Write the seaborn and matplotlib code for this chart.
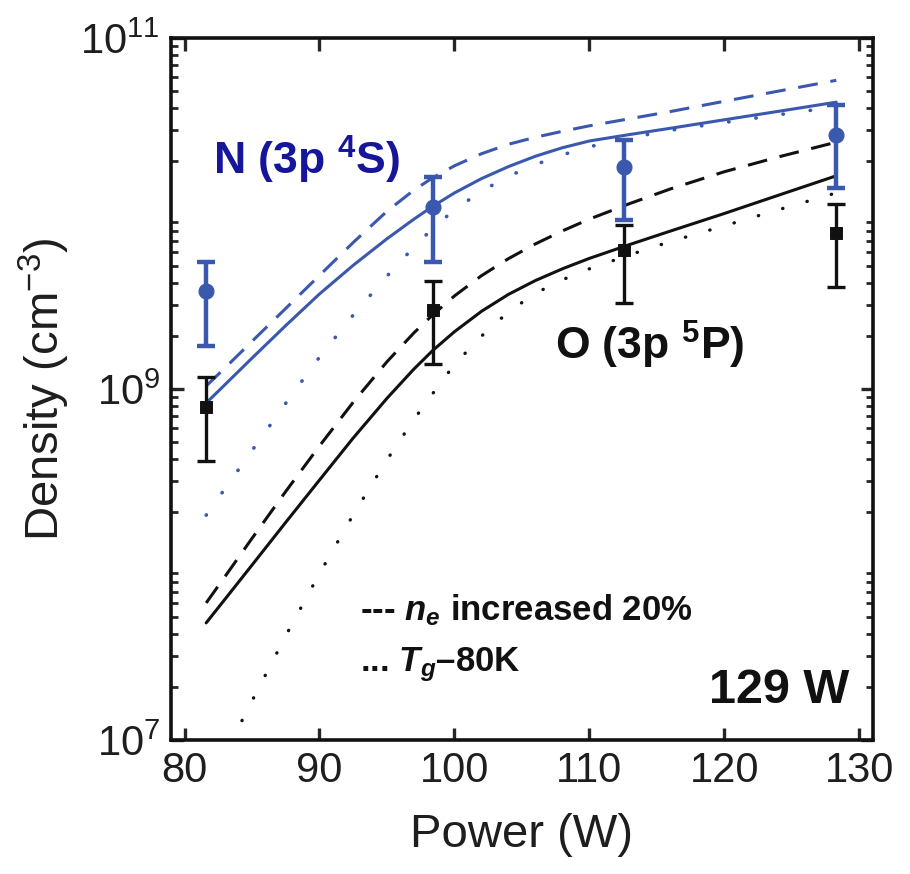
import matplotlib
matplotlib.use("Agg")
import matplotlib.pyplot as plt
import matplotlib.ticker as mticker
import numpy as np
import seaborn as sns

# ---------------- data ----------------
power_model = [81.6, 83, 85, 87.5, 90, 92.5, 95, 97, 98.4, 100, 102, 104, 106, 108, 110,
               113, 116, 120, 124, 128.3]

N_solid  = [8.32e8, 1.06e9, 1.50e9, 2.30e9, 3.48e9, 5.07e9, 7.18e9, 9.29e9, 1.10e10, 1.31e10,
            1.58e10, 1.85e10, 2.12e10, 2.37e10, 2.59e10, 2.82e10, 3.06e10, 3.42e10, 3.82e10, 4.31e10]
N_dashed = [1.04e9, 1.32e9, 1.87e9, 2.88e9, 4.44e9, 6.84e9, 1.03e10, 1.36e10, 1.60e10, 1.87e10,
            2.19e10, 2.48e10, 2.72e10, 2.94e10, 3.16e10, 3.47e10, 3.81e10, 4.36e10, 4.98e10, 5.74e10]
N_dotted = [1.91e8, 2.71e8, 4.46e8, 8.30e8, 1.52e9, 2.64e9, 4.40e9, 6.45e9, 8.24e9, 1.05e10,
            1.34e10, 1.63e10, 1.90e10, 2.16e10, 2.40e10, 2.70e10, 2.98e10, 3.30e10, 3.65e10, 4.06e10]

O_solid  = [4.65e7, 6.35e7, 9.93e7, 1.74e8, 3.03e8, 5.26e8, 8.85e8, 1.30e9, 1.66e9, 2.12e9,
            2.77e9, 3.46e9, 4.15e9, 4.84e9, 5.55e9, 6.66e9, 7.94e9, 1.00e10, 1.27e10, 1.64e10]
O_dashed = [6.04e7, 8.55e7, 1.41e8, 2.61e8, 4.74e8, 8.41e8, 1.43e9, 2.09e9, 2.65e9, 3.39e9,
            4.42e9, 5.53e9, 6.71e9, 7.96e9, 9.29e9, 1.14e10, 1.38e10, 1.73e10, 2.10e10, 2.55e10]
power_O_dotted = [83.4, 85, 87.5, 90, 92.5, 95, 97, 98.4, 100, 102, 104, 106, 108, 110,
                  113, 116, 120, 124, 128.3]
O_dotted = [9.59e6, 1.67e7, 3.93e7, 8.89e7, 1.92e8, 3.95e8, 6.71e8, 9.44e8, 1.38e9, 2.00e9,
            2.75e9, 3.51e9, 4.19e9, 4.84e9, 5.82e9, 6.92e9, 8.51e9, 1.05e10, 1.31e10]

power_meas = [81.6, 98.4, 112.6, 128.3]
N_meas = [3.62e9, 1.09e10, 1.84e10, 2.80e10]
N_low  = [1.76e9, 5.30e9, 9.20e9, 1.40e10]
N_high = [5.30e9, 1.61e10, 2.62e10, 4.15e10]
O_meas = [7.90e8, 2.82e9, 6.20e9, 7.74e9]
O_low  = [3.89e8, 1.39e9, 3.09e9, 3.81e9]
O_high = [1.17e9, 4.12e9, 8.60e9, 1.13e10]

x_ticks = [80, 90, 100, 110, 120, 130]
y_ticks = [1e7, 1e9, 1e11]
y_tick_labels = [r"$10^{7}$", r"$10^{9}$", r"$10^{11}$"]

# ---------------- style ----------------
sns.set_style("ticks")
plt.rcParams["font.family"] = ["Liberation Sans", "DejaVu Sans"]
plt.rcParams["mathtext.fontset"] = "custom"
plt.rcParams["mathtext.rm"] = "Liberation Sans"
plt.rcParams["mathtext.it"] = "Liberation Sans:italic"
plt.rcParams["mathtext.bf"] = "Liberation Sans:bold"
plt.rcParams["mathtext.bfit"] = "Liberation Sans:bold:italic"

BLUE = "#3a58ad"
NAVY = "#16169a"
BLACK = "#111111"
GREY = "#1e1e1e"

fig = plt.figure(figsize=(9.1, 8.74), dpi=100)
ax = fig.add_axes([0.188, 0.1533, 0.771, 0.8032])

lw = 2.2
dash = (0, (6.5, 4.2))
dot = (0, (0.1, 7.5))

def curve(x, y, color, ls, width=lw):
    sns.lineplot(x=x, y=y, ax=ax, color=color, linestyle=ls, linewidth=width,
                 estimator=None, sort=False,
                 dash_capstyle="round" if ls == dot else "butt",
                 solid_joinstyle="round")

curve(power_model, N_solid, BLUE, "-")
curve(power_model, N_dashed, BLUE, dash)
curve(power_model, N_dotted, BLUE, dot, 2.6)
curve(power_model, O_solid, BLACK, "-")
curve(power_model, O_dashed, BLACK, dash)
curve(power_O_dotted, O_dotted, BLACK, dot, 2.4)

# error bars
N_err = [np.array(N_meas) - np.array(N_low), np.array(N_high) - np.array(N_meas)]
O_err = [np.array(O_meas) - np.array(O_low), np.array(O_high) - np.array(O_meas)]
ax.errorbar(power_meas, O_meas, yerr=O_err, fmt="none", ecolor=BLACK,
            elinewidth=2.4, capsize=6.5, capthick=2.4, zorder=4)
ax.errorbar(power_meas, N_meas, yerr=N_err, fmt="none", ecolor=BLUE,
            elinewidth=3.2, capsize=6.5, capthick=3.2, zorder=5)
sns.scatterplot(x=power_meas, y=O_meas, ax=ax, marker="s", s=75, color=BLACK,
                edgecolor=BLACK, zorder=6)
sns.scatterplot(x=power_meas, y=N_meas, ax=ax, marker="o", s=115, color=BLUE,
                edgecolor=BLUE, zorder=7)

# axes
ax.set_yscale("log")
ax.set_xlim(79, 131)
ax.set_ylim(1e7, 1e11)
ax.set_xticks(x_ticks)
ax.set_xticklabels([str(t) for t in x_ticks])
ax.set_yticks(y_ticks)
ax.set_yticklabels(y_tick_labels)
ax.yaxis.set_minor_locator(mticker.LogLocator(base=10, subs=np.arange(2, 10), numticks=20))
ax.yaxis.set_minor_formatter(mticker.NullFormatter())
ax.xaxis.set_minor_locator(mticker.NullLocator())

ax.tick_params(axis="both", which="major", direction="in", top=True, right=True,
               length=9, width=2.4, labelsize=30, labelcolor=GREY, pad=8)
ax.tick_params(axis="y", which="minor", direction="in", left=True, right=True,
               length=5, width=2.0)
for s in ax.spines.values():
    s.set_linewidth(2.6)
    s.set_color(BLACK)

ax.set_xlabel("Power (W)", fontsize=34, color=GREY, labelpad=16)
ax.set_ylabel(r"Density (cm$^{-3}$)", fontsize=34, color=GREY, labelpad=6)

# annotations
ax.text(0.060, 0.826, r"N (3p $\mathbf{^{4}}$S)", transform=ax.transAxes,
        fontsize=32, fontweight="bold", color=NAVY, ha="left", va="center")
ax.text(0.547, 0.563, r"O (3p $\mathbf{^{5}}$P)", transform=ax.transAxes,
        fontsize=32, fontweight="bold", color=BLACK, ha="left", va="center")
ax.text(0.269, 0.185, r"--- $\mathbfit{n}_{\mathbfit{e}}$ increased 20%", transform=ax.transAxes,
        fontsize=25, fontweight="bold", color=BLACK, ha="left", va="center")
ax.text(0.269, 0.107, r"... $\mathbfit{T}_{\mathbfit{g}}$–80K", transform=ax.transAxes,
        fontsize=25, fontweight="bold", color=BLACK, ha="left", va="center")
ax.text(0.967, 0.071, "129 W", transform=ax.transAxes,
        fontsize=35, fontweight="bold", color=BLACK, ha="right", va="center")

fig.savefig("out.png", dpi=100)
